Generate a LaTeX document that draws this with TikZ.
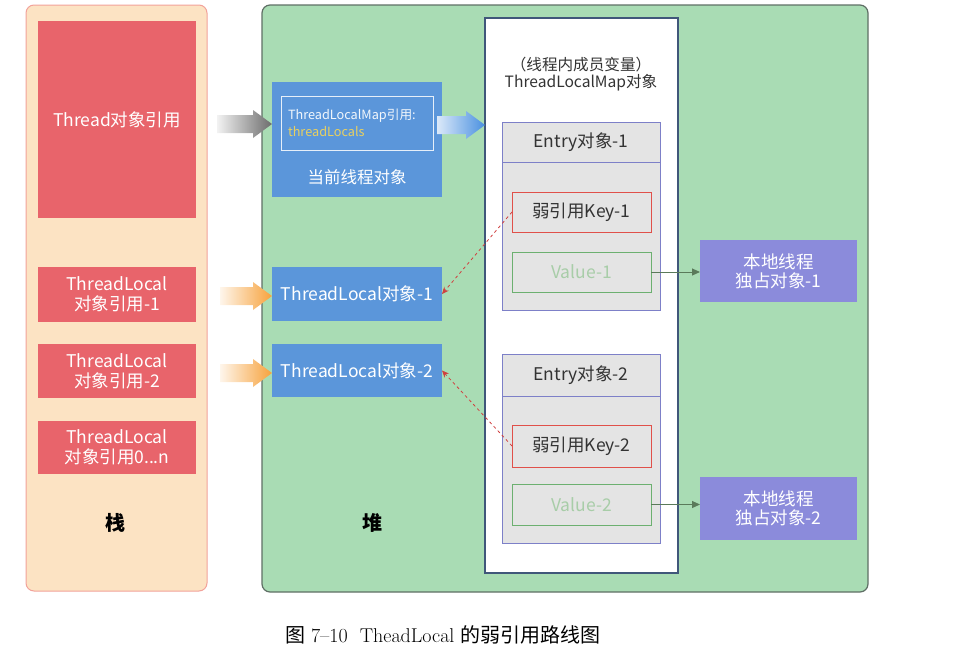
\documentclass[tikz,border=0pt]{standalone}
\usepackage{fontspec}
\newfontfamily\cjk{Noto Sans CJK SC}
\usetikzlibrary{calc,arrows.meta}
\definecolor{stackfill}{HTML}{FCE3C3}
\definecolor{stackline}{HTML}{F2A29A}
\definecolor{redbox}{HTML}{E8646B}
\definecolor{heapfill}{HTML}{A9DCB4}
\definecolor{heapline}{HTML}{5F6F65}
\definecolor{bluebox}{HTML}{5B96DA}
\definecolor{mapline}{HTML}{40577A}
\definecolor{entryfill}{HTML}{E4E4E4}
\definecolor{entryline}{HTML}{7D80C8}
\definecolor{keyline}{HTML}{E0504A}
\definecolor{valline}{HTML}{6CB070}
\definecolor{valtext}{HTML}{A8CDA8}
\definecolor{ownbox}{HTML}{8B8BDB}
\definecolor{yeltext}{HTML}{E8D060}
\definecolor{weakarrow}{HTML}{D04040}
\definecolor{valarrow}{HTML}{5A7A5A}
\definecolor{orangearr}{HTML}{F7A23C}
\definecolor{bluearr}{HTML}{4A90E0}
\newcommand\fatarr[3]{%
  \shade[#3] ($(#1)+(0,-9)$) -- ($(#2)+(-19,-9)$) -- ($(#2)+(-19,-14)$) -- (#2)
    -- ($(#2)+(-19,14)$) -- ($(#2)+(-19,9)$) -- ($(#1)+(0,9)$) -- cycle;}
\begin{document}
\begin{tikzpicture}[x=1pt,y=-1pt,
  every node/.style={inner sep=0pt,outer sep=0pt,font=\cjk\fontsize{17.5}{20}\selectfont},
  redref/.style={fill=redbox,text=white,align=center,minimum width=158pt},
  bluenode/.style={fill=bluebox,text=white,align=center,minimum width=170pt},
  entrybox/.style={draw=entryline,line width=1pt,fill=entryfill,minimum width=158pt},
  keybox/.style={draw=keyline,line width=1pt,fill=entryfill,minimum width=139pt,text=black!80},
  valbox/.style={draw=valline,line width=0.8pt,fill=entryfill,minimum width=139pt,text=valtext},
  ownnode/.style={fill=ownbox,text=white,align=center,minimum width=157pt,font=\cjk\fontsize{17.5}{19}\selectfont},
  weak/.style={draw=weakarrow,dashed,line width=0.8pt,-{Stealth[length=7pt,width=6pt]}},
  valarr/.style={draw=valarrow,line width=1pt,-{Triangle[length=8pt,width=7pt]}}]
\useasboundingbox (0,0) rectangle (962,664);
% stack
\node[draw=stackline,line width=1pt,fill=stackfill,rounded corners=8pt,minimum width=181pt,minimum height=586pt] (stack) at (116.5,298) {};
\node[redref,minimum height=197pt] (thread) at (117,119.5) {Thread对象引用};
\node[redref,minimum height=55pt] (tlref1) at (117,294.5) {ThreadLocal\\对象引用-1};
\node[redref,minimum height=54pt] (tlref2) at (117,371) {ThreadLocal\\对象引用-2};
\node[redref,minimum height=53pt] (tlrefn) at (117,447.5) {ThreadLocal\\对象引用0...n};
\node[font=\cjk\bfseries\fontsize{20}{24}\selectfont] (stacklabel) at (115,523) {栈};
% heap
\node[draw=heapline,line width=1.2pt,fill=heapfill,rounded corners=8pt,minimum width=606pt,minimum height=587pt] (heap) at (565,298.5) {};
\node[font=\cjk\bfseries\fontsize{20}{24}\selectfont] (heaplabel) at (372,523) {堆};
\node[bluenode,minimum height=115pt] (cur) at (357,139.5) {};
\node[draw=white!85!bluebox,line width=1pt,minimum width=152pt,minimum height=54pt] (inner) at (357,123) {};
\node[anchor=west,text=white!92!bluebox,font=\cjk\fontsize{12.7}{15}\selectfont] (innerA) at (288,116) {ThreadLocalMap引用:};
\node[anchor=west,text=yeltext,font=\cjk\fontsize{12.7}{15}\selectfont] (innerB) at (288,132) {threadLocals};
\node[text=white,font=\cjk\fontsize{16.5}{19}\selectfont] (curlabel) at (357,177) {当前线程对象};
\node[bluenode,minimum height=54pt] (tl1) at (357,294) {ThreadLocal对象-1};
\node[bluenode,minimum height=53pt] (tl2) at (357,370.5) {ThreadLocal对象-2};
% map
\node[draw=mapline,line width=1.5pt,fill=white,minimum width=193pt,minimum height=555pt] (map) at (581.5,295.5) {};
\node[text=black!80,font=\cjk\fontsize{15.6}{18}\selectfont] (mapt1) at (581,65) {（线程内成员变量）};
\node[text=black!80,font=\cjk\fontsize{15.6}{18}\selectfont] (mapt2) at (581,83) {ThreadLocalMap对象};
% entry 1
\node[entrybox,minimum height=188pt] (entry1) at (581,216) {};
\node[entrybox,minimum height=40pt,text=black!80] (entry1h) at (581,142) {Entry对象-1};
\node[keybox,minimum height=40pt] (key1) at (581.5,212) {弱引用Key-1};
\node[valbox,minimum height=40pt] (val1) at (581.5,272) {Value-1};
\node[ownnode,minimum height=62pt] (own1) at (778.5,271) {本地线程\\独占对象-1};
% entry 2
\node[entrybox,minimum height=189pt] (entry2) at (581,448.5) {};
\node[entrybox,minimum height=42pt,text=black!80] (entry2h) at (581,375) {Entry对象-2};
\node[keybox,minimum height=42pt] (key2) at (581.5,446) {弱引用Key-2};
\node[valbox,minimum height=41pt] (val2) at (581.5,504.5) {Value-2};
\node[ownnode,minimum height=63pt] (own2) at (778.5,508.5) {本地线程\\独占对象-2};
% connectors
\draw[weak] (key1.west) -- (tl1.east);
\draw[weak] (key2.west) -- (tl2.east);
\draw[valarr] (val1.east) -- (own1.west |- val1.east);
\draw[valarr] (val2.east) -- (own2.west |- val2.east);
\coordinate (ga) at (217,124);
\coordinate (oa1) at (220,296);
\coordinate (oa2) at (220,373);
\coordinate (ba) at (437,125);
\coordinate (bb) at (map.west |- ba);
\fatarr{ga}{cur.west |- ga}{left color=white!90!gray,right color=gray!85!black}
\fatarr{oa1}{tl1.west |- oa1}{left color=orangearr!10,right color=orangearr}
\fatarr{oa2}{tl2.west |- oa2}{left color=orangearr!10,right color=orangearr}
\fatarr{ba}{bb}{left color=white!80!bluearr,right color=bluearr}
% caption
\node[font=\fontsize{20}{23}\selectfont,anchor=west] (caption) at (285,635) {{\cjk 图} 7--10\ \ TheadLocal {\cjk 的弱引用路线图}};
\end{tikzpicture}
\end{document}
